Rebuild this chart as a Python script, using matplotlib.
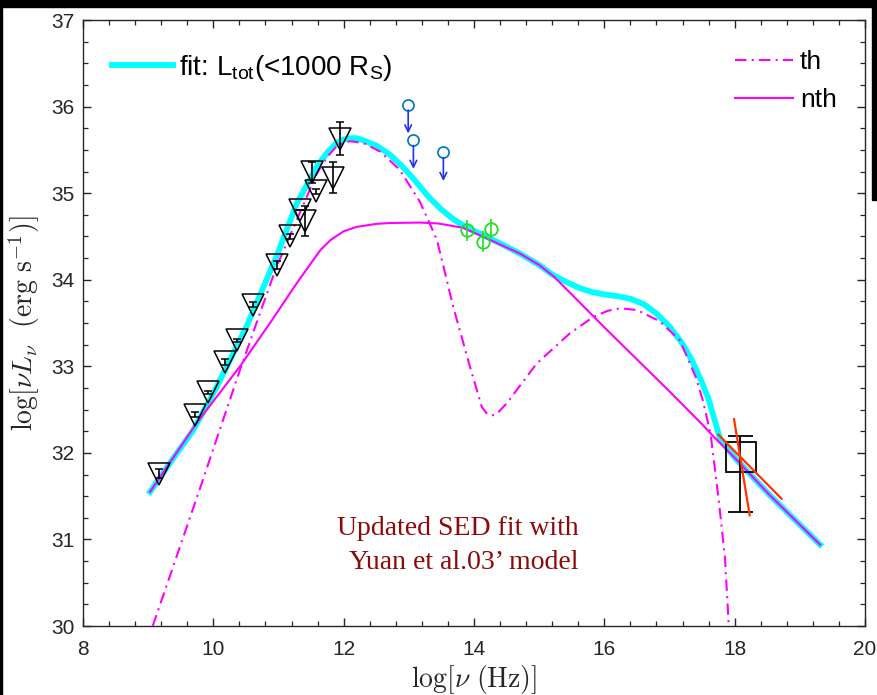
import matplotlib
matplotlib.use("Agg")
import matplotlib.pyplot as plt
from matplotlib.patches import Rectangle
from matplotlib.lines import Line2D

plt.rcParams['font.family'] = ['Liberation Sans', 'DejaVu Sans']
plt.rcParams['mathtext.fontset'] = 'cm'

# ---- model curves (log nu, log nuLnu) ----
fit_x = [9.03, 9.35, 9.69, 10.05, 10.51, 10.97, 11.28, 11.59, 11.75, 11.89, 12.0, 12.1, 12.2,
         12.3, 12.5, 12.7, 12.9, 13.1, 13.3, 13.5, 13.7, 13.9, 14.1, 14.4, 14.71, 15.0,
         15.2, 15.4, 15.6, 15.8, 16.0, 16.2, 16.4, 16.6, 16.8, 17.0, 17.2, 17.35, 17.5,
         17.6, 17.7, 17.78, 18.03, 18.54, 19.31]
fit_y = [31.55, 31.9, 32.26, 32.76, 33.46, 34.27, 34.88, 35.31, 35.47, 35.58, 35.62, 35.635, 35.635,
         35.61, 35.55, 35.45, 35.31, 35.14, 34.96, 34.81, 34.69, 34.6, 34.53, 34.42, 34.3, 34.17,
         34.06, 33.98, 33.91, 33.86, 33.83, 33.81, 33.78, 33.72, 33.61, 33.46, 33.26, 33.06, 32.81,
         32.62, 32.36, 32.15, 31.92, 31.51, 30.94]

th_x = [9.07, 9.8, 10.1, 10.41, 10.77, 10.97, 11.28, 11.59, 11.75, 11.89, 12.0, 12.1, 12.3,
        12.56, 12.86, 13.17, 13.32, 13.43, 13.5, 13.68, 13.94, 14.12, 14.19, 14.27,
        14.35, 14.5, 14.96, 15.47, 15.83, 16.05, 16.24, 16.5, 16.85, 17.16, 17.4, 17.51,
        17.63, 17.75, 17.85, 17.91]
th_y = [30.0, 31.6, 32.27, 32.96, 33.73, 34.15, 34.69, 35.23, 35.42, 35.54, 35.58, 35.6, 35.58,
        35.48, 35.27, 34.9, 34.65, 34.46, 34.25, 33.69, 32.99, 32.53, 32.46, 32.43,
        32.45, 32.57, 33.03, 33.38, 33.57, 33.64, 33.67, 33.65, 33.52, 33.3, 32.88, 32.61,
        32.22, 31.49, 30.8, 30.0]

nth_x = [9.03, 9.74, 10.41, 10.87, 11.28, 11.64, 11.8, 12.0, 12.2, 12.5, 12.71, 13.17, 13.45,
         13.83, 14.19, 14.71, 15.0, 15.22, 15.5, 16.0, 16.5, 17.0, 17.5, 17.7, 18.03, 18.54, 19.31]
nth_y = [31.55, 32.34, 33.0, 33.5, 33.96, 34.34, 34.46, 34.56, 34.61, 34.645, 34.655, 34.66, 34.65,
         34.6, 34.48, 34.3, 34.17, 34.04, 33.83, 33.45, 33.08, 32.71, 32.33, 32.17, 31.92, 31.51, 30.94]

# ---- radio / submm data (triangles) ----
tri_x = [9.16, 9.72, 9.92, 10.18, 10.36, 10.61, 10.97, 11.18, 11.33, 11.40, 11.57, 11.52, 11.83, 11.94]
tri_y = [31.76, 32.44, 32.70, 33.05, 33.30, 33.71, 34.17, 34.50, 34.80, 34.68, 35.02, 35.24, 35.18, 35.63]
tri_e = [0.05, 0.03, 0.02, 0.03, 0.02, 0.03, 0.05, 0.03, 0.0, 0.17, 0.03, 0.12, 0.18, 0.19]

# ---- IR upper limits ----
ul_x = [12.99, 13.07, 13.53]
ul_y = [36.02, 35.61, 35.47]
ul_len = 0.33

# ---- NIR points ----
nir_x = [13.89, 14.14, 14.26]
nir_y = [34.57, 34.44, 34.59]
nir_e = [0.12, 0.12, 0.11]

# ---- X-ray ----
xr_box_x = [17.86, 18.32]
xr_box_y = [31.78, 32.13]
xr_x = 18.08
xr_ylo, xr_yhi = 31.32, 32.19
red1_x = [17.75, 18.72]
red1_y = [32.21, 31.47]
red2_x = [17.99, 18.23]
red2_y = [32.39, 31.28]

W, H = 877, 695
fig = plt.figure(figsize=(W / 100, H / 100), dpi=100)
ax = fig.add_axes([83 / W, (H - 626) / H, 782 / W, 606 / H])

DASHDOT = (0, (5.5, 2.5, 1, 2.5))
ax.plot(fit_x, fit_y, color='#00FFFF', lw=4.2, solid_joinstyle='round', zorder=2)
ax.plot(th_x, th_y, color='#FF00FF', lw=1.5, ls=DASHDOT, zorder=3)
ax.plot(nth_x, nth_y, color='#FF00FF', lw=1.5, solid_joinstyle='round', zorder=3)

ax.errorbar(tri_x, tri_y, yerr=tri_e, fmt='v', ms=16, mfc='none', mec='black', mew=1.1,
            ecolor='black', elinewidth=1.2, capsize=3, capthick=1.2, zorder=4)

ax.plot(ul_x, ul_y, 'o', ms=8, mfc='none', mec='#0072BD', mew=1.2, zorder=5)
for x, y in zip(ul_x, ul_y):
    ax.annotate('', xy=(x, y - ul_len), xytext=(x, y - 0.06),
                arrowprops=dict(arrowstyle='->', color='#2233EE', lw=1.2,
                                mutation_scale=12, shrinkA=0, shrinkB=0), zorder=5)

ax.errorbar(nir_x, nir_y, yerr=nir_e, fmt='o', ms=9, mfc='none', mec='#22DD22', mew=1.3,
            ecolor='#22DD22', elinewidth=1.2, capsize=0, zorder=5)

ax.add_patch(Rectangle((xr_box_x[0], xr_box_y[0]), xr_box_x[1] - xr_box_x[0],
                       xr_box_y[1] - xr_box_y[0], fill=False, ec='black', lw=1.3, zorder=5))
ax.errorbar([xr_x], [(xr_ylo + xr_yhi) / 2], yerr=[(xr_yhi - xr_ylo) / 2], fmt='none',
            ecolor='black', elinewidth=1.3, capsize=9, capthick=1.3, zorder=5)
ax.plot(red1_x, red1_y, color='#FF3300', lw=1.6, zorder=6)
ax.plot(red2_x, red2_y, color='#FF3300', lw=1.6, zorder=6)

ax.text(13.75, 31.13, 'Updated SED fit with', color='#8B0A0A', fontsize=20,
        family=['Liberation Serif', 'DejaVu Serif'], ha='center', va='center')
ax.text(13.84, 30.73, "Yuan et al.03\u2019 model", color='#8B0A0A', fontsize=20,
        family=['Liberation Serif', 'DejaVu Serif'], ha='center', va='center')

ax.set_xlim(8, 20)
ax.set_ylim(30, 37)
ax.set_xticks([8, 10, 12, 14, 16, 18, 20])
ax.set_yticks([30, 31, 32, 33, 34, 35, 36, 37])
ax.set_xticks([8 + 0.4 * i for i in range(31)], minor=True)
ax.set_yticks([30 + 0.25 * i for i in range(29)], minor=True)
ax.tick_params(which='both', direction='in', top=True, right=True, color='#262626',
               labelcolor='#262626', labelsize=15)
ax.tick_params(which='major', length=6, width=1.0)
ax.tick_params(which='minor', length=3.3, width=0.9)
ax.tick_params(axis='x', which='major', pad=10)
ax.tick_params(axis='y', which='major', pad=6)
for s in ax.spines.values():
    s.set_color('#262626')
    s.set_linewidth(1.0)

ax.set_xlabel(r'$\log[\nu\ \mathrm{(Hz)}]$', fontsize=20, color='#262626', labelpad=3)
ax.set_ylabel(r'$\log[\nu L_\nu\ \ (\mathrm{erg\ s^{-1}})]$', fontsize=20, color='#262626', labelpad=7)

leg1 = ax.legend([Line2D([], [], color='#00FFFF', lw=4.2)],
                 [r'fit: L$\mathregular{_{tot}}$(<1000 R$\mathregular{_S}$)'],
                 loc='center left', bbox_to_anchor=(0.037, 0.921), frameon=False,
                 fontsize=20, handlelength=2.2, handletextpad=0.2, borderpad=0,
                 borderaxespad=0)
ax.add_artist(leg1)
ax.legend([Line2D([], [], color='#FF00FF', lw=1.5, ls=DASHDOT),
           Line2D([], [], color='#FF00FF', lw=1.5)], ['th', 'nth'],
          loc='center left', bbox_to_anchor=(0.834, 0.899), frameon=False,
          fontsize=19, handlelength=2.2, handletextpad=0.25, borderpad=0,
          borderaxespad=0, labelspacing=0.55)

# screenshot frame
fig.add_artist(Rectangle((0, 1 - 7 / H), 1, 7 / H, transform=fig.transFigure, color='black', zorder=10))
fig.add_artist(Rectangle((0, 0), 2 / W, 1, transform=fig.transFigure, color='black', zorder=10))
fig.add_artist(Rectangle((1 - 5 / W, 1 - 200 / H), 5 / W, 200 / H, transform=fig.transFigure, color='black', zorder=10))

fig.savefig('out.png', dpi=100)
